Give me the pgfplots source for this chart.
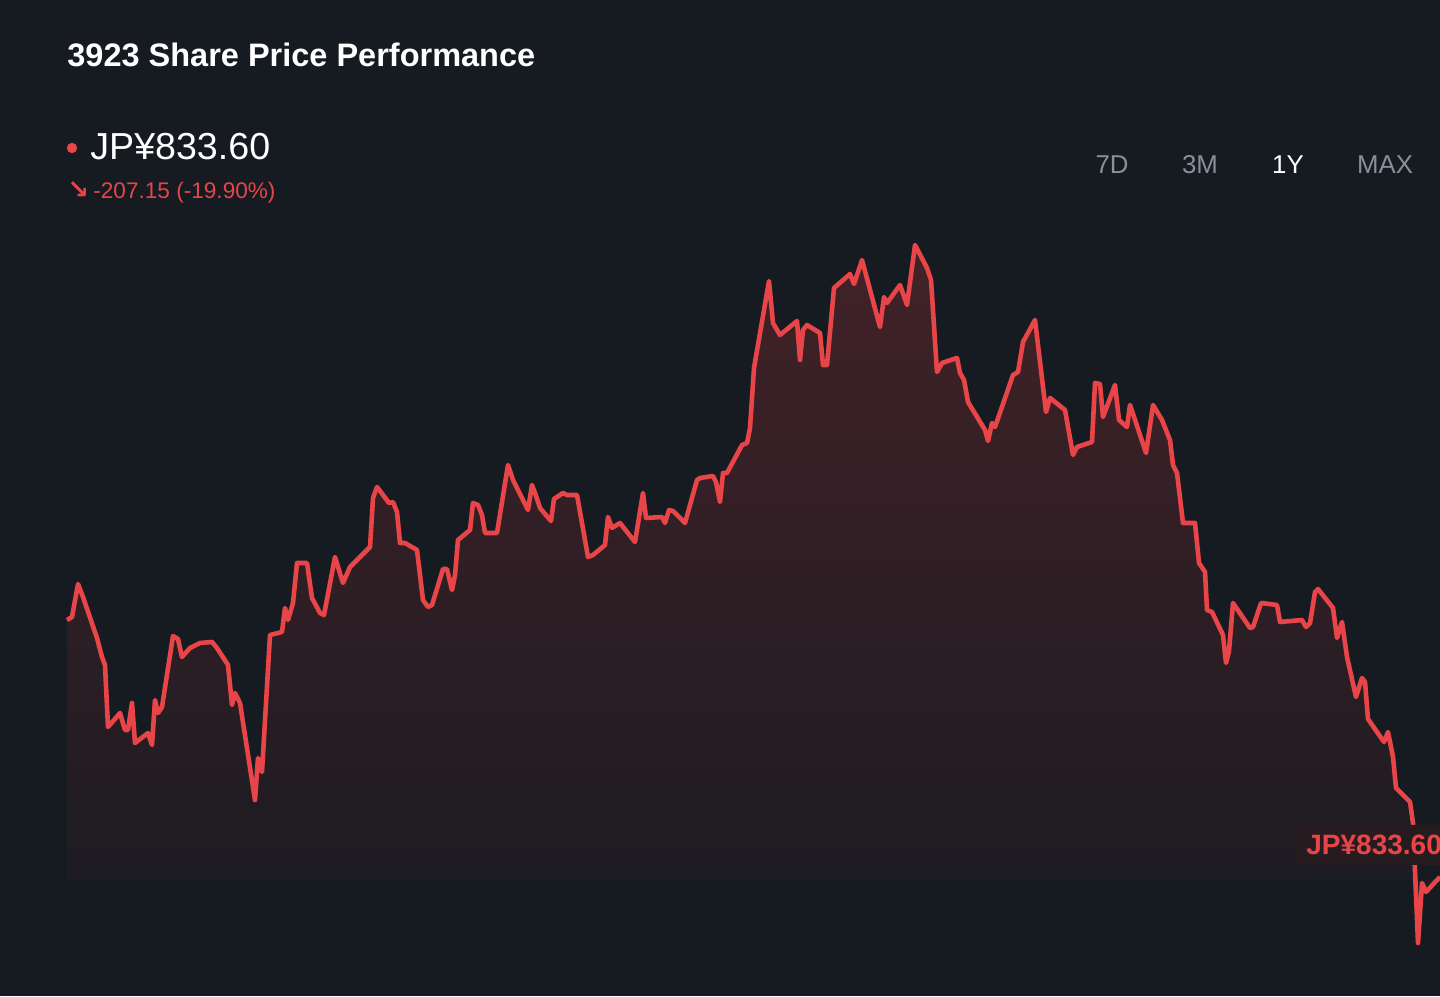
\documentclass[border=0pt]{standalone}
\usepackage{pgfplots}
\usepackage{pgfplotstable}
\pgfplotsset{compat=1.18}
\usepackage{fontspec}
\setmainfont{Liberation Sans}
\newfontfamily\dejavu{DejaVu Sans}
\definecolor{bg}{RGB}{22,27,34}
\definecolor{linered}{RGB}{232,69,72}
\definecolor{fillred}{RGB}{66,34,40}
\definecolor{fillbot}{RGB}{25,27,33}
\definecolor{btngray}{RGB}{138,143,152}
\definecolor{boxbg}{RGB}{38,28,32}

\pgfplotstableread{
x y
67 376
72 379
78 412
83 399
97 358
102 339
105 331
108 269
120 283
125 266
128 266
132 293
135 253
148 263
152 251
155 296
158 283
162 289
173 360
178 357
182 339
190 348
200 353
212 354
217 348
228 331
232 291
235 303
240 293
255 196
258 238
262 224
270 361
282 364
285 388
288 376
293 393
297 433
307 433
312 398
320 383
324 381
335 439
343 413
350 429
370 449
373 498
377 509
389 493
393 494
397 484
400 453
405 453
417 446
423 396
428 389
432 391
443 427
447 427
452 406
455 421
458 456
470 466
473 493
478 491
482 481
485 463
497 463
508 531
513 516
528 486
532 511
535 503
540 488
551 475
554 497
563 503
567 501
577 501
588 439
593 441
605 451
608 479
612 468
620 473
635 454
643 503
646 478
662 479
665 473
669 486
673 485
685 473
697 516
700 518
713 520
716 514
720 494
723 523
727 523
742 551
747 553
750 568
754 628
769 715
773 673
780 661
797 675
800 636
803 666
807 671
820 663
823 631
827 631
834 708
850 722
854 712
862 736
880 669
884 699
887 693
900 711
907 691
915 751
927 728
931 716
937 624
942 633
957 638
960 623
964 616
968 594
985 566
988 555
992 573
995 569
1013 621
1018 624
1023 654
1035 676
1046 584
1050 598
1065 586
1073 541
1077 549
1092 554
1095 613
1100 612
1103 579
1115 611
1119 576
1127 569
1130 591
1146 543
1153 591
1162 576
1170 556
1173 531
1177 523
1183 473
1195 473
1199 433
1205 424
1207 386
1212 384
1223 361
1226 333
1229 345
1233 393
1250 368
1253 369
1261 393
1277 391
1280 374
1302 376
1306 369
1310 373
1315 404
1318 407
1333 388
1337 358
1342 374
1347 339
1356 299
1362 318
1365 314
1368 277
1384 254
1388 264
1393 239
1396 208
1410 194
1413 173
1418 53
1422 113
1426 104
1437 116
1440 119
}\pricedata

\begin{document}
\begin{tikzpicture}
\begin{axis}[
  x=0.5pt, y=0.5pt,
  xmin=0, xmax=1440, ymin=0, ymax=996,
  hide axis,
  clip=true, clip mode=global,
]
\fill[bg] (axis cs:0,0) rectangle (axis cs:1440,996);

\addplot[draw=none, top color=fillred, bottom color=fillbot] table[x=x,y=y] {\pricedata}
  -- (axis cs:1440,116) -- (axis cs:67,116) -- cycle;
\addplot[linered, line width=2.3pt, line join=round] table[x=x,y=y] {\pricedata};

% box label at right
\fill[boxbg, rounded corners=4pt] (axis cs:1296,131) rectangle (axis cs:1470,171);
\node[anchor=base west, text=linered, inner sep=0pt, font=\fontsize{14}{16}\selectfont\bfseries] at (axis cs:1306,141) {JP¥833.60};

% title
\node[anchor=base west, text=white, inner sep=0pt, font=\fontsize{16.25}{19}\selectfont\bfseries] at (axis cs:67,929) {3923 Share Price Performance};

% price
\fill[linered] (axis cs:72,848) circle[radius=2.6pt];
\node[anchor=base west, text=white, inner sep=0pt, font=\fontsize{18.8}{22}\selectfont] at (axis cs:90,836) {JP¥833.60};

% change
\node[anchor=base west, text=linered, inner sep=0pt, font=\fontsize{13}{15}\selectfont\dejavu\bfseries] at (axis cs:67,797) {↘};
\node[anchor=base west, text=linered, inner sep=0pt, font=\fontsize{11.3}{13}\selectfont] at (axis cs:93,797) {-207.15 (-19.90\%)};

% range buttons
\node[anchor=base, text=btngray, inner sep=0pt, font=\fontsize{12.9}{15}\selectfont] at (axis cs:1112,822) {7D};
\node[anchor=base, text=btngray, inner sep=0pt, font=\fontsize{12.9}{15}\selectfont] at (axis cs:1200,822) {3M};
\node[anchor=base, text=white, inner sep=0pt, font=\fontsize{12.9}{15}\selectfont] at (axis cs:1288,822) {1Y};
\node[anchor=base, text=btngray, inner sep=0pt, font=\fontsize{12.9}{15}\selectfont] at (axis cs:1385,822) {MAX};
\end{axis}
\end{tikzpicture}
\end{document}
